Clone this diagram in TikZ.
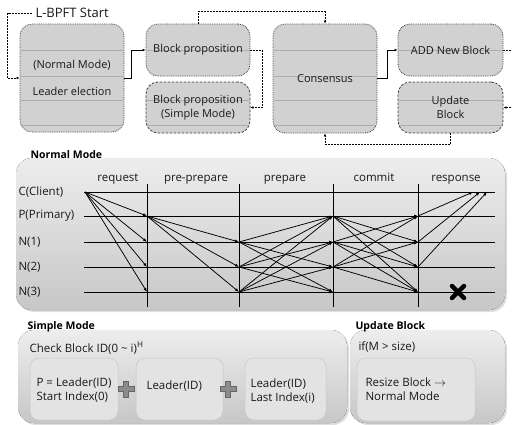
\documentclass[tikz,border=0pt]{standalone}
\usepackage{fontspec}
\setmainfont{Open Sans}
\usetikzlibrary{arrows.meta,shadows}

\begin{document}
\begin{tikzpicture}[x=1pt,y=-1pt,
  font=\fontsize{11.5}{13.5}\selectfont,
  box/.style={draw=black!75,densely dotted,line width=0.8pt,fill=black!18,
    rounded corners=12pt,inner sep=0pt},
  dbox/.style={box,dash pattern=on 2.5pt off 1.5pt},
  btext/.style={align=center,text=black!90,font=\fontsize{11}{13.5}\selectfont},
  grid/.style={black!32,line width=0.5pt},
  flow/.style={-{Latex[length=3pt,width=2.5pt]},line width=0.5pt},
  dflow/.style={flow,dash pattern=on 2pt off 1pt},
  panel/.style={rounded corners=16pt,top color=black!7,bottom color=black!22,
    drop shadow={shadow xshift=2pt,shadow yshift=-2pt,opacity=0.25}},
  inbox/.style={rounded corners=9pt,draw=black!22,fill=black!11,line width=0.5pt},
  head/.style={font=\fontsize{10.5}{12}\selectfont\bfseries,anchor=west},
  lbl/.style={anchor=west,text=black!90},
  msg/.style={-{Latex[length=4pt,width=3pt]},line width=0.75pt},
  plus/.style={fill=black!45,draw=black!60,line width=0.4pt},
]
\useasboundingbox (0,0) rectangle (512,424);

% top flow
\node[box,minimum width=104pt,minimum height=108pt] (leader) at (72,78) {};
\node[box,minimum width=104pt,minimum height=52pt] (bprop) at (198,50) {};
\node[dbox,minimum width=104pt,minimum height=51pt] (simple) at (198,107.5) {};
\node[box,minimum width=104pt,minimum height=109pt] (cons) at (325,78.5) {};
\node[box,minimum width=105pt,minimum height=52pt] (add) at (450.5,50) {};
\node[dbox,minimum width=105pt,minimum height=51pt] (upd) at (450.5,107.5) {};
\foreach \b/\ys in {leader/{50,76,100,125},bprop/{50},simple/{100,125},
    cons/{50,76,100,125},add/{50},upd/{100,125}}
  \foreach \y in \ys
    \draw[grid,shorten >=1.5pt,shorten <=1.5pt] (\b.west |- 0,\y) -- (\b.east |- 0,\y);
\node[btext] (leader-t) at (leader) {(Normal Mode)\\[13pt]Leader election};
\node[btext] (bprop-t) at (bprop) {Block proposition};
\node[btext] (simple-t) at (simple) {Block proposition\\(Simple Mode)};
\node[btext] (cons-t) at (cons) {Consensus};
\node[btext] (add-t) at (add) {ADD New Block};
\node[btext] (upd-t) at (upd) {Update\\Block};

\node[lbl,font=\fontsize{13}{15}\selectfont] (start) at (32,13) {L-BPFT Start};
\draw[dflow] (start.west) -| ([xshift=-12pt]leader.west) -- (leader.west);
\draw[flow] (leader.east) -- ++(7,0) |- (bprop.west);
\draw[dflow] (bprop.north) -- ++(0,-12) -| (cons.north);
\draw[dflow] (bprop.east) -- ++(12,0) |- (simple.east);
\draw[flow] (cons.east) -- ++(10,0) |- (add.west);
\draw[dflow] (add.east) -- ++(14,0) |- (upd.east);
\draw[dflow] (upd.south) -- ++(0,11) -| (cons.south);

% normal mode (PBFT)
\fill[panel] (16,158) rectangle (505,310);
\node[head] (nmode) at (27,155) {Normal Mode};
\foreach \n/\t/\y in {C/C(Client)/192,P/P(Primary)/216,N1/N(1)/242,N2/N(2)/267,N3/N(3)/292}{
  \node[lbl] (l\n) at (15,\y) {\t};
  \foreach \i/\x in {0/85,1/147,2/239,3/333,4/418}
    \coordinate (\n-\i) at (\x,\y);
  \draw[line width=0.8pt] (84,\y) -- (495,\y);
}
\foreach \x in {147,239,333,418}
  \draw[line width=0.8pt] (\x,184) -- (\x,307);
\foreach \t/\x in {request/118,pre-prepare/196,prepare/285,commit/374,response/456}
  \node[text=black!90,anchor=base] (ph-\t) at (\x,181) {\t};

\foreach \n in {P,N1,N2,N3}
  \draw[msg] (C-0) -- (\n-1);
\foreach \n in {N1,N2,N3}
  \draw[msg] (P-1) -- (\n-2);
\foreach \s in {N1,N2,N3}
  \foreach \n in {P,N1,N2,N3}
    \draw[msg] (\s-2) -- (\n-3);
\foreach \s in {P,N1,N2}
  \foreach \n in {P,N1,N2,N3}
    \draw[msg] (\s-3) -- (\n-4);
\coordinate (r1) at (473,192);
\coordinate (r2) at (480,192);
\coordinate (r3) at (487,192);
\draw[msg] (P-4) -- (r1);
\draw[msg] (N1-4) -- (r2);
\draw[msg] (N2-4) -- (r3);
\draw[line width=4.5pt,line cap=round] (452,286) -- (464,298) (452,298) -- (464,286);

% simple mode
\fill[panel] (18,330) rectangle (347,423);
\node[head] (smode) at (24,327) {Simple Mode};
\node[lbl] (chk) at (26,348) {Check Block ID(0 \textasciitilde\ i)\textsuperscript{H}};
\draw[inbox] (30,358) rectangle (118,420);
\draw[inbox] (136,358) rectangle (223,420);
\draw[inbox] (245,358) rectangle (326,420);
\node[lbl,align=left] (s1) at (33,390) {P = Leader(ID)\\Start Index(0)};
\node[lbl] (s2) at (143,386) {Leader(ID)};
\node[lbl,align=left] (s3) at (247,391) {Leader(ID)\\Last Index(i)};
\foreach \px in {126,228}
  \filldraw[plus] (\px-2.5,381) -- (\px+2.5,381) -- (\px+2.5,386.5) -- (\px+8,386.5)
    -- (\px+8,391.5) -- (\px+2.5,391.5) -- (\px+2.5,397) -- (\px-2.5,397)
    -- (\px-2.5,391.5) -- (\px-8,391.5) -- (\px-8,386.5) -- (\px-2.5,386.5) -- cycle;

% update block
\fill[panel] (350,330) rectangle (505,423);
\node[head] (umode) at (352,327) {Update Block};
\node[lbl] (cond) at (355,347) {if(M > size)};
\draw[inbox] (357,358) rectangle (475,421);
\node[lbl,align=left] (rs) at (362,389) {Resize Block $\rightarrow$\\Normal Mode};
\end{tikzpicture}
\end{document}
